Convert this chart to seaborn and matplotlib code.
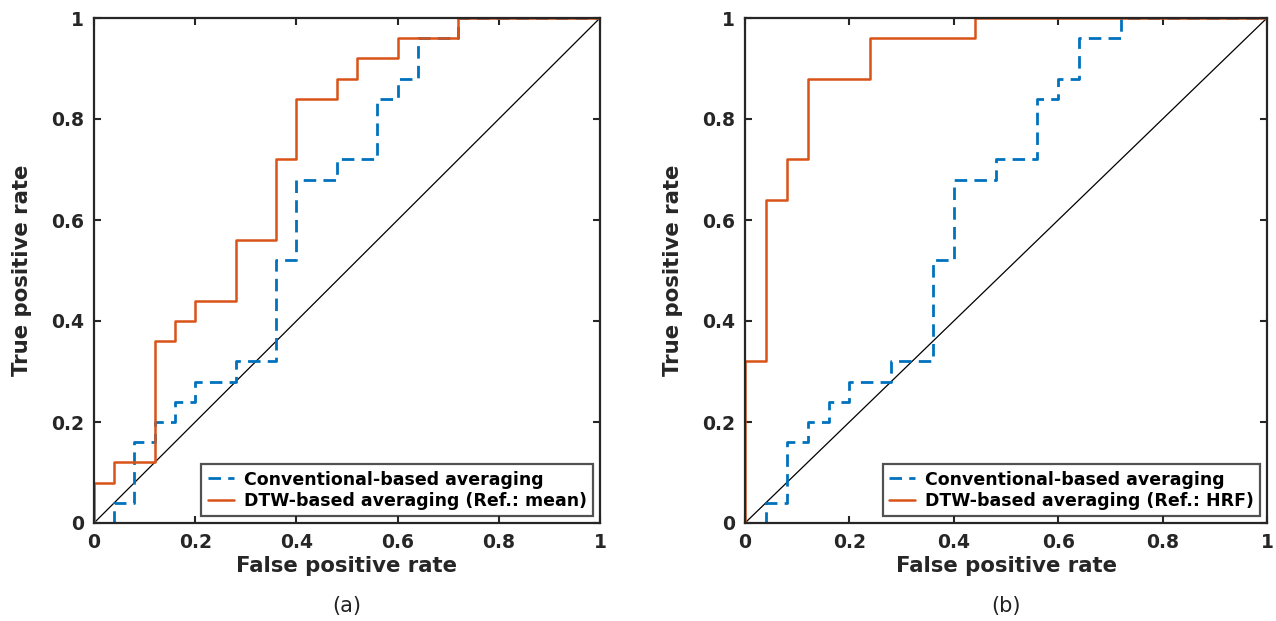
import matplotlib
matplotlib.use("Agg")
import matplotlib.pyplot as plt
import seaborn as sns
from matplotlib.ticker import FuncFormatter

# ---- data: ROC curve vertices ----
a_conv_fpr = [0, 0.04, 0.04, 0.08, 0.08, 0.12, 0.12, 0.16, 0.16, 0.20, 0.20, 0.28, 0.28, 0.36,
              0.36, 0.40, 0.40, 0.48, 0.48, 0.56, 0.56, 0.60, 0.60, 0.64, 0.64, 0.72, 0.72, 1]
a_conv_tpr = [0, 0, 0.04, 0.04, 0.16, 0.16, 0.20, 0.20, 0.24, 0.24, 0.28, 0.28, 0.32, 0.32,
              0.52, 0.52, 0.68, 0.68, 0.72, 0.72, 0.84, 0.84, 0.88, 0.88, 0.96, 0.96, 1, 1]
a_dtw_fpr = [0, 0, 0.04, 0.04, 0.12, 0.12, 0.16, 0.16, 0.20, 0.20, 0.28, 0.28, 0.36, 0.36,
             0.40, 0.40, 0.48, 0.48, 0.52, 0.52, 0.60, 0.60, 0.72, 0.72, 1]
a_dtw_tpr = [0, 0.08, 0.08, 0.12, 0.12, 0.36, 0.36, 0.40, 0.40, 0.44, 0.44, 0.56, 0.56, 0.72,
             0.72, 0.84, 0.84, 0.88, 0.88, 0.92, 0.92, 0.96, 0.96, 1, 1]

b_conv_fpr = [0, 0.04, 0.04, 0.08, 0.08, 0.12, 0.12, 0.16, 0.16, 0.20, 0.20, 0.28, 0.28, 0.36,
              0.36, 0.40, 0.40, 0.48, 0.48, 0.56, 0.56, 0.60, 0.60, 0.64, 0.64, 0.72, 0.72, 1]
b_conv_tpr = [0, 0, 0.04, 0.04, 0.16, 0.16, 0.20, 0.20, 0.24, 0.24, 0.28, 0.28, 0.32, 0.32,
              0.52, 0.52, 0.68, 0.68, 0.72, 0.72, 0.84, 0.84, 0.88, 0.88, 0.96, 0.96, 1, 1]
b_dtw_fpr = [0, 0, 0.04, 0.04, 0.08, 0.08, 0.12, 0.12, 0.24, 0.24, 0.44, 0.44, 1]
b_dtw_tpr = [0, 0.32, 0.32, 0.64, 0.64, 0.72, 0.72, 0.88, 0.88, 0.96, 0.96, 1, 1]

chance = [0, 1]
ticks = [0, 0.2, 0.4, 0.6, 0.8, 1]

panels = [
    ("(a)", a_conv_fpr, a_conv_tpr, a_dtw_fpr, a_dtw_tpr, "DTW-based averaging (Ref.: mean)"),
    ("(b)", b_conv_fpr, b_conv_tpr, b_dtw_fpr, b_dtw_tpr, "DTW-based averaging (Ref.: HRF)"),
]

sns.set_theme(style="white")
plt.rcParams["font.family"] = ["DejaVu Sans"]

BLUE = "#0072BD"
ORANGE = "#D95319"
SPINE = "#262626"

fig = plt.figure(figsize=(12.76, 6.21), dpi=100)
boxes = [(94, 600), (745, 1267)]
W, H = 1276, 621
y_top, y_bot = 18, 523

for (x0, x1), (tag, cfx, cfy, dfx, dfy, dlab) in zip(boxes, panels):
    ax = fig.add_axes([x0 / W, 1 - y_bot / H, (x1 - x0) / W, (y_bot - y_top) / H])
    sns.lineplot(x=chance, y=chance, ax=ax, color="black", linewidth=0.9,
                 estimator=None, sort=False, legend=False)
    sns.lineplot(x=cfx, y=cfy, ax=ax, color=BLUE, linewidth=2.0, estimator=None,
                 sort=False, label="Conventional-based averaging")
    ax.lines[-1].set_dashes([4.5, 2.6])
    sns.lineplot(x=dfx, y=dfy, ax=ax, color=ORANGE, linewidth=1.8, estimator=None,
                 sort=False, label=dlab)
    ax.set_xlim(0, 1)
    ax.set_ylim(0, 1)
    ax.set_xticks(ticks)
    ax.set_yticks(ticks)
    ax.xaxis.set_major_formatter(FuncFormatter(lambda v, p: f"{v:g}"))
    ax.yaxis.set_major_formatter(FuncFormatter(lambda v, p: f"{v:g}"))
    ax.tick_params(direction="in", length=5, width=1.5, color=SPINE, top=True, right=True,
                   bottom=True, left=True, labelsize=13.5, labelcolor=SPINE, pad=7)
    for t in ax.get_xticklabels() + ax.get_yticklabels():
        t.set_fontweight("bold")
    for s in ax.spines.values():
        s.set_color(SPINE)
        s.set_linewidth(1.6)
        s.set_visible(True)
    ax.set_xlabel("False positive rate", fontsize=15.3, fontweight="bold", color=SPINE, labelpad=3)
    ax.set_ylabel("True positive rate", fontsize=15.3, fontweight="bold", color=SPINE, labelpad=14)
    leg = ax.legend(loc="lower right", prop={"weight": "bold", "size": 12.5},
                    frameon=True, fancybox=False, handlelength=1.5, handletextpad=0.6,
                    borderpad=0.35, labelspacing=0.2, borderaxespad=0.4)
    leg.get_frame().set_edgecolor(SPINE)
    leg.get_frame().set_linewidth(1.6)
    for txt in leg.get_texts():
        txt.set_color("black")
    fig.text((x0 + x1) / 2 / W, 1 - 606 / H, tag, ha="center", va="center", fontsize=15,
             color="#222222")

fig.savefig("out.png", dpi=100, facecolor="white")
